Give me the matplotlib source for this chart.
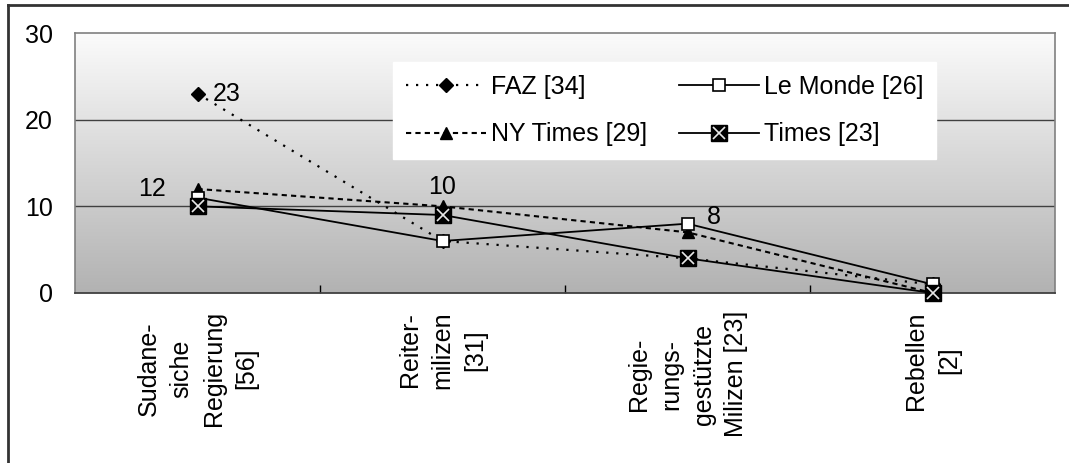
import numpy as np
import matplotlib
matplotlib.use("Agg")
import matplotlib.pyplot as plt
from matplotlib.lines import Line2D
from matplotlib.legend_handler import HandlerTuple
from matplotlib.colors import LinearSegmentedColormap

plt.rcParams['font.family'] = ['Liberation Sans', 'DejaVu Sans']

categories = ["Sudane-\nsiche\nRegierung\n[56]", "Reiter-\nmilizen\n[31]",
              "Regie-\nrungs-\ngestützte\nMilizen [23]", "Rebellen\n[2]"]
faz = [23, 6, 4, 1]
le_monde = [11, 6, 8, 1]
ny_times = [12, 10, 7, 0]
times = [10, 9, 4, 0]
series_names = ["FAZ [34]", "Le Monde [26]", "NY Times [29]", "Times [23]"]
yticks = [0, 10, 20, 30]

W, H = 1069, 463
fig = plt.figure(figsize=(W / 100, H / 100), dpi=100)
ax = fig.add_axes([75 / W, (H - 293) / H, 980 / W, 260 / H])

x = np.arange(len(categories)) + 0.5
ax.set_xlim(0, len(categories))
ax.set_ylim(0, 30)

# gradient background
grad = np.linspace(0, 1, 256).reshape(-1, 1)
cmap = LinearSegmentedColormap.from_list("g", ["#b2b2b2", "#fbfbfb"])
ax.imshow(grad, extent=[0, len(categories), 0, 30], origin="lower", aspect="auto",
          cmap=cmap, zorder=0)

for yv in [10, 20]:
    ax.axhline(yv, color="#404040", lw=1.0, zorder=1)

l_faz, = ax.plot(x, faz, color="black", lw=1.6, linestyle=(0, (1.0, 3.5)),
                 marker="D", markersize=7, markerfacecolor="black",
                 markeredgecolor="black", zorder=3, clip_on=False)
l_ny, = ax.plot(x, ny_times, color="black", lw=1.5, linestyle=(0, (2.5, 2.0)),
                marker="^", markersize=9, markerfacecolor="black",
                markeredgecolor="black", zorder=3, clip_on=False)
l_lm, = ax.plot(x, le_monde, color="black", lw=1.3, linestyle="-",
                marker="s", markersize=8.5, markerfacecolor="white",
                markeredgecolor="black", markeredgewidth=1.2, zorder=4, clip_on=False)
l_t, = ax.plot(x, times, color="black", lw=1.3, linestyle="-",
               marker="s", markersize=12, markerfacecolor="black",
               markeredgecolor="black", zorder=5, clip_on=False)
l_tx, = ax.plot(x, times, linestyle="none", marker="x", markersize=9,
                markeredgecolor="#e8e8e8", markeredgewidth=1.2, zorder=6, clip_on=False)

# data labels
fs = 18
ax.annotate(str(faz[0]), (x[0], faz[0]), xytext=(11, 0), textcoords="offset points",
            ha="left", va="center", fontsize=fs, zorder=7)
ax.annotate(str(ny_times[0]), (x[0], ny_times[0]), xytext=(-23, 0), textcoords="offset points",
            ha="right", va="center", fontsize=fs, zorder=7)
ax.annotate(str(ny_times[1]), (x[1], ny_times[1]), xytext=(0, 14), textcoords="offset points",
            ha="center", va="center", fontsize=fs, zorder=7)
ax.annotate(str(le_monde[2]), (x[2], le_monde[2]), xytext=(14, 5), textcoords="offset points",
            ha="left", va="center", fontsize=fs, zorder=7)

# axes styling
ax.set_yticks(yticks)
ax.set_yticklabels([str(v) for v in yticks], fontsize=fs)
ax.tick_params(axis="y", length=0, pad=16)
ax.set_xticks(x)
ax.set_xticklabels(categories, rotation=90, fontsize=fs, ha="center", va="top",
                   multialignment="center", linespacing=1.45)
ax.tick_params(axis="x", which="major", length=0, pad=13)
ax.set_xticks([1, 2, 3], minor=True)
ax.tick_params(axis="x", which="minor", direction="in", length=6, width=1, color="black")
for s in ["left", "right", "top"]:
    ax.spines[s].set_color("#808080")
    ax.spines[s].set_linewidth(1.2)
ax.spines["bottom"].set_color("#404040")
ax.spines["bottom"].set_linewidth(1.3)

leg = ax.legend([l_faz, l_ny, l_lm, (l_t, l_tx)],
                [series_names[0], series_names[2], series_names[1], series_names[3]],
                handler_map={tuple: HandlerTuple(ndivide=1)},
                ncol=2, loc="upper left", bbox_to_anchor=(0.3245, 0.888),
                borderaxespad=0, fontsize=fs, frameon=True, fancybox=False,
                edgecolor="white", facecolor="white", framealpha=1,
                handlelength=3.2, handletextpad=0.2, columnspacing=1.3,
                labelspacing=0.95, borderpad=0.5)
leg.set_zorder(10)

# figure frame (top and left)
fig.add_artist(Line2D([8 / W, 8 / W], [0, (H - 5) / H], color="#333333", lw=2,
                      transform=fig.transFigure))
fig.add_artist(Line2D([8 / W, 1], [(H - 5) / H, (H - 5) / H], color="#333333", lw=2,
                      transform=fig.transFigure))

fig.savefig("out.png", dpi=100)
